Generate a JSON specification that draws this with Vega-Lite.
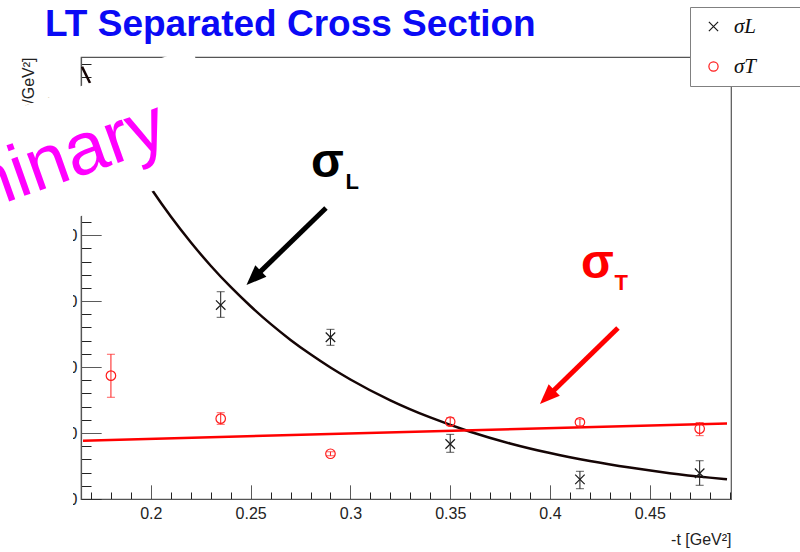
{
  "$schema": "https://vega.github.io/schema/vega-lite/v6.json",
  "autosize": {"type": "none"},
  "width": 650,
  "height": 442,
  "padding": {"left": 81, "top": 57, "right": 69, "bottom": 53},
  "background": "white",
  "config": {
    "view": {"stroke": "#555", "strokeWidth": 1.2},
    "font": "Liberation Sans",
    "axis": {"grid": false, "labelOverlap": false}
  },
  "title": {
    "text": "LT Separated Cross Section",
    "orient": "none",
    "anchor": "start",
    "dx": -36,
    "dy": -21,
    "baseline": "alphabetic",
    "font": "Liberation Sans",
    "fontSize": 37,
    "fontWeight": "bold",
    "color": "#0a0af5"
  },
  "datasets": {
    "points": [
      {"t": 0.235, "v": 14.70, "lo": 13.77, "hi": 15.71, "series": "σL"},
      {"t": 0.29, "v": 12.26, "lo": 11.65, "hi": 12.86, "series": "σL"},
      {"t": 0.35, "v": 4.17, "lo": 3.54, "hi": 4.90, "series": "σL"},
      {"t": 0.415, "v": 1.49, "lo": 0.78, "hi": 2.10, "series": "σL"},
      {"t": 0.475, "v": 1.95, "lo": 1.04, "hi": 2.90, "series": "σL"},
      {"t": 0.18, "v": 9.35, "lo": 7.71, "hi": 10.97, "series": "σT"},
      {"t": 0.235, "v": 6.09, "lo": 5.66, "hi": 6.54, "series": "σT"},
      {"t": 0.29, "v": 3.43, "lo": 3.28, "hi": 3.58, "series": "σT"},
      {"t": 0.35, "v": 5.86, "lo": 5.56, "hi": 6.16, "series": "σT"},
      {"t": 0.415, "v": 5.81, "lo": 5.56, "hi": 6.06, "series": "σT"},
      {"t": 0.475, "v": 5.33, "lo": 4.80, "hi": 5.80, "series": "σT"}
    ],
    "fits": [
      {"t": 0.1655, "v": 32.76, "fit": "σL"},
      {"t": 0.17, "v": 31.38, "fit": "σL"},
      {"t": 0.18, "v": 28.52, "fit": "σL"},
      {"t": 0.19, "v": 25.92, "fit": "σL"},
      {"t": 0.2007, "v": 23.40, "fit": "σL"},
      {"t": 0.21, "v": 21.41, "fit": "σL"},
      {"t": 0.22, "v": 19.46, "fit": "σL"},
      {"t": 0.23, "v": 17.68, "fit": "σL"},
      {"t": 0.24, "v": 16.07, "fit": "σL"},
      {"t": 0.25, "v": 14.61, "fit": "σL"},
      {"t": 0.26, "v": 13.27, "fit": "σL"},
      {"t": 0.27, "v": 12.06, "fit": "σL"},
      {"t": 0.28, "v": 10.97, "fit": "σL"},
      {"t": 0.29, "v": 9.97, "fit": "σL"},
      {"t": 0.30, "v": 9.06, "fit": "σL"},
      {"t": 0.32, "v": 7.48, "fit": "σL"},
      {"t": 0.34, "v": 6.18, "fit": "σL"},
      {"t": 0.36, "v": 5.10, "fit": "σL"},
      {"t": 0.38, "v": 4.21, "fit": "σL"},
      {"t": 0.40, "v": 3.48, "fit": "σL"},
      {"t": 0.42, "v": 2.88, "fit": "σL"},
      {"t": 0.44, "v": 2.38, "fit": "σL"},
      {"t": 0.46, "v": 1.96, "fit": "σL"},
      {"t": 0.48, "v": 1.62, "fit": "σL"},
      {"t": 0.4887, "v": 1.49, "fit": "σL"},
      {"t": 0.166, "v": 4.42, "fit": "σT"},
      {"t": 0.4887, "v": 5.73, "fit": "σT"}
    ]
  },
  "layer": [
    {
      "data": {"name": "fits"},
      "transform": [{"filter": "datum.fit === 'σL'"}],
      "mark": {"type": "line", "color": "#150505", "strokeWidth": 2.5, "interpolate": "monotone"},
      "encoding": {
        "x": {
          "field": "t", "type": "quantitative",
          "scale": {"domain": [0.165, 0.4907], "nice": false, "zero": false},
          "axis": {
            "values": [0.17, 0.18, 0.19, 0.2, 0.21, 0.22, 0.23, 0.24, 0.25, 0.26, 0.27, 0.28, 0.29, 0.3, 0.31, 0.32, 0.33, 0.34, 0.35, 0.36, 0.37, 0.38, 0.39, 0.4, 0.41, 0.42, 0.43, 0.44, 0.45, 0.46, 0.47, 0.48, 0.49],
            "tickCount": 200,
            "format": "~g",
            "labelExpr": "abs(datum.value * 20 - round(datum.value * 20)) < 0.001 ? datum.label : ''",
            "labelFontSize": {"condition": {"test": "abs(datum.value * 20 - round(datum.value * 20)) > 0.001", "value": 1}, "value": 16},
            "tickSize": -14, "tickColor": "#222", "tickWidth": 1,
            "tickDash": {"condition": {"test": "abs(datum.value * 20 - round(datum.value * 20)) > 0.001", "value": [7, 40]}, "value": [1, 0]},
            "domainColor": "#555", "domainWidth": 1.2,
            "labelColor": "#222", "labelPadding": 20,
            "labelFlush": false, "labelOverlap": false,
            "title": "-t [GeV²]", "titleAnchor": "end", "titleFontSize": 16,
            "titleFontWeight": "normal", "titleColor": "#222", "titlePadding": 10
          }
        },
        "y": {
          "field": "v", "type": "quantitative",
          "scale": {"domain": [0, 33.5], "nice": false},
          "axis": {
            "values": [0, 1, 2, 3, 4, 5, 6, 7, 8, 9, 10, 11, 12, 13, 14, 15, 16, 17, 18, 19, 20, 21, 22, 23, 24, 25, 26, 27, 28, 29, 30, 31, 32, 33],
            "tickCount": 200,
            "labelExpr": "datum.value % 5 === 0 ? datum.label : ''",
            "labelFontSize": {"condition": {"test": "datum.value % 5 !== 0", "value": 1}, "value": 16},
            "tickSize": -20, "tickColor": "#222", "tickWidth": 1,
            "tickDash": {"condition": {"test": "datum.value % 5 !== 0", "value": [10, 40]}, "value": [1, 0]},
            "domainColor": "#555", "domainWidth": 1.2,
            "labelColor": "#222", "labelPadding": 24,
            "labelOverlap": false,
            "title": "dσ/dt [μb/GeV²]", "titleFontSize": 16,
            "titleFontWeight": "normal", "titleColor": "#222",
            "titleAngle": 270, "titleAlign": "right", "titleBaseline": "alphabetic",
            "titleX": -48, "titleY": 0
          }
        }
      }
    },
    {
      "data": {"name": "fits"},
      "transform": [{"filter": "datum.fit === 'σT'"}],
      "mark": {"type": "line", "color": "#ff0000", "strokeWidth": 2.5},
      "encoding": {
        "x": {"field": "t", "type": "quantitative"},
        "y": {"field": "v", "type": "quantitative"}
      }
    },
    {
      "data": {"name": "points"},
      "transform": [{"filter": "datum.series === 'σL'"}],
      "mark": {"type": "rule", "strokeWidth": 1, "color": "#1a1a1a"},
      "encoding": {
        "x": {"field": "t", "type": "quantitative"},
        "y": {"field": "lo", "type": "quantitative"},
        "y2": {"field": "hi"}
      }
    },
    {
      "data": {"name": "points"},
      "transform": [{"filter": "datum.series === 'σT'"}],
      "mark": {"type": "rule", "strokeWidth": 1, "color": "#ff1a1a"},
      "encoding": {
        "x": {"field": "t", "type": "quantitative"},
        "y": {"field": "lo", "type": "quantitative"},
        "y2": {"field": "hi"}
      }
    },
    {
      "data": {"name": "points"},
      "transform": [{"filter": "datum.series === 'σL'"}],
      "mark": {"type": "tick", "orient": "horizontal", "size": 8, "thickness": 1, "color": "#1a1a1a"},
      "encoding": {
        "x": {"field": "t", "type": "quantitative"},
        "y": {"field": "lo", "type": "quantitative"}
      }
    },
    {
      "data": {"name": "points"},
      "transform": [{"filter": "datum.series === 'σL'"}],
      "mark": {"type": "tick", "orient": "horizontal", "size": 8, "thickness": 1, "color": "#1a1a1a"},
      "encoding": {
        "x": {"field": "t", "type": "quantitative"},
        "y": {"field": "hi", "type": "quantitative"}
      }
    },
    {
      "data": {"name": "points"},
      "transform": [{"filter": "datum.series === 'σT'"}],
      "mark": {"type": "tick", "orient": "horizontal", "size": 8, "thickness": 1, "color": "#ff1a1a"},
      "encoding": {
        "x": {"field": "t", "type": "quantitative"},
        "y": {"field": "lo", "type": "quantitative"}
      }
    },
    {
      "data": {"name": "points"},
      "transform": [{"filter": "datum.series === 'σT'"}],
      "mark": {"type": "tick", "orient": "horizontal", "size": 8, "thickness": 1, "color": "#ff1a1a"},
      "encoding": {
        "x": {"field": "t", "type": "quantitative"},
        "y": {"field": "hi", "type": "quantitative"}
      }
    },
    {
      "data": {"name": "points"},
      "mark": {"type": "point", "filled": false, "size": 90, "strokeWidth": 1.2, "opacity": 1},
      "encoding": {
        "x": {"field": "t", "type": "quantitative"},
        "y": {"field": "v", "type": "quantitative"},
        "color": {
          "field": "series", "type": "nominal",
          "scale": {"domain": ["σL", "σT"], "range": ["#1a1a1a", "#ff1a1a"]},
          "legend": {
            "orient": "none", "legendX": 609, "legendY": -50,
            "title": "\u00a0", "titleOrient": "right", "titlePadding": 70, "titleFontSize": 10,
            "fillColor": "white", "strokeColor": "#808080",
            "padding": 9, "rowPadding": 18,
            "symbolSize": 85, "symbolStrokeWidth": 1.2, "symbolOffset": 4,
            "labelOffset": 10,
            "labelFont": "Liberation Serif", "labelFontStyle": "italic",
            "labelFontSize": 21, "labelColor": "#111"
          }
        },
        "shape": {
          "field": "series", "type": "nominal",
          "scale": {"domain": ["σL", "σT"], "range": ["M-1,-1L1,1M-1,1L1,-1", "circle"]}
        }
      }
    },
    {
      "data": {"values": [{}]},
      "mark": {"type": "point", "shape": "M-1,-0.2362L1,-0.2362L1,0.2362L-1,0.2362Z", "size": 270400, "angle": -19.2, "filled": true, "color": "white", "opacity": 1},
      "encoding": {
        "x": {"datum": 0.10759, "type": "quantitative"},
        "y": {"datum": 23.35, "type": "quantitative"}
      }
    },
    {
      "data": {"values": [{}]},
      "mark": {"type": "point", "shape": "M-0.5058,-1L0.5058,-1L0.5058,1L-0.5058,1Z", "size": 116964, "filled": true, "color": "white", "opacity": 1},
      "encoding": {
        "x": {"datum": 0.11766, "type": "quantitative"},
        "y": {"datum": 8.337, "type": "quantitative"}
      }
    },
    {
      "data": {"values": [{}]},
      "mark": {"type": "text", "text": "Preliminary", "font": "Liberation Sans", "fontSize": 74, "color": "#ff00ff", "angle": -19.5, "align": "right", "baseline": "alphabetic"},
      "encoding": {
        "x": {"datum": 0.2101, "type": "quantitative"},
        "y": {"datum": 26.90, "type": "quantitative"}
      }
    },
    {
      "data": {"values": [{}]},
      "mark": {"type": "rule", "strokeWidth": 5, "color": "#000000"},
      "encoding": {
        "x": {"datum": 0.28775, "type": "quantitative"},
        "y": {"datum": 22.055, "type": "quantitative"},
        "x2": {"datum": 0.25333},
        "y2": {"datum": 17.007}
      }
    },
    {
      "data": {"values": [{}]},
      "mark": {"type": "point", "shape": "M0,0L0.8,2L-0.8,2Z", "size": 400, "angle": -134.1, "filled": true, "color": "#000000", "opacity": 1},
      "encoding": {
        "x": {"datum": 0.24792, "type": "quantitative"},
        "y": {"datum": 16.219, "type": "quantitative"}
      }
    },
    {
      "data": {"values": [{}]},
      "mark": {"type": "rule", "strokeWidth": 5, "color": "#ff0000"},
      "encoding": {
        "x": {"datum": 0.43404, "type": "quantitative"},
        "y": {"datum": 12.96, "type": "quantitative"},
        "x2": {"datum": 0.40032},
        "y2": {"datum": 7.996}
      }
    },
    {
      "data": {"values": [{}]},
      "mark": {"type": "point", "shape": "M0,0L0.8,2L-0.8,2Z", "size": 400, "angle": -134.3, "filled": true, "color": "#ff0000", "opacity": 1},
      "encoding": {
        "x": {"datum": 0.39496, "type": "quantitative"},
        "y": {"datum": 7.20, "type": "quantitative"}
      }
    },
    {
      "data": {"values": [{}]},
      "mark": {"type": "text", "text": "σ", "font": "Liberation Sans", "fontSize": 48, "fontWeight": "bold", "color": "#000000", "align": "left", "baseline": "alphabetic"},
      "encoding": {
        "x": {"datum": 0.28023, "type": "quantitative"},
        "y": {"datum": 24.40, "type": "quantitative"}
      }
    },
    {
      "data": {"values": [{}]},
      "mark": {"type": "text", "text": "L", "font": "Liberation Sans", "fontSize": 22, "fontWeight": "bold", "color": "#000000", "align": "left", "baseline": "alphabetic"},
      "encoding": {
        "x": {"datum": 0.29751, "type": "quantitative"},
        "y": {"datum": 23.50, "type": "quantitative"}
      }
    },
    {
      "data": {"values": [{}]},
      "mark": {"type": "text", "text": "σ", "font": "Liberation Sans", "fontSize": 48, "fontWeight": "bold", "color": "#ff0000", "align": "left", "baseline": "alphabetic"},
      "encoding": {
        "x": {"datum": 0.41550, "type": "quantitative"},
        "y": {"datum": 16.75, "type": "quantitative"}
      }
    },
    {
      "data": {"values": [{}]},
      "mark": {"type": "text", "text": "T", "font": "Liberation Sans", "fontSize": 22, "fontWeight": "bold", "color": "#ff0000", "align": "left", "baseline": "alphabetic"},
      "encoding": {
        "x": {"datum": 0.43228, "type": "quantitative"},
        "y": {"datum": 15.84, "type": "quantitative"}
      }
    }
  ]
}
